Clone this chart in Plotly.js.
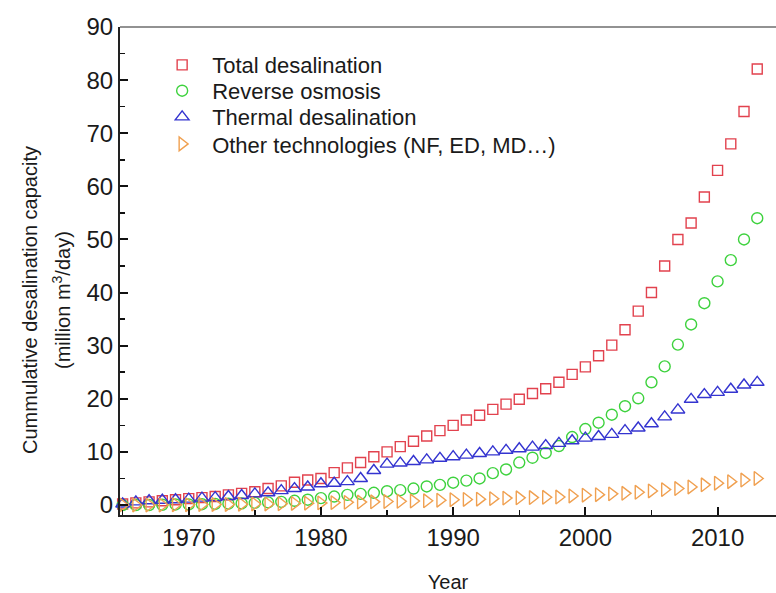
<!DOCTYPE html>
<html>
<head>
<meta charset="utf-8">
<script src="https://cdn.plot.ly/plotly-3.0.1.min.js"></script>
<style>
  html, body { margin: 0; padding: 0; background: #fff; }
  #chart { width: 776px; height: 593px; }
</style>
</head>
<body>
<div id="chart"></div>
<script>
// Cumulative installed desalination capacity, million m3/day, 1965-2013
var years = [1965, 1966, 1967, 1968, 1969, 1970, 1971, 1972, 1973, 1974,
             1975, 1976, 1977, 1978, 1979, 1980, 1981, 1982, 1983, 1984,
             1985, 1986, 1987, 1988, 1989, 1990, 1991, 1992, 1993, 1994,
             1995, 1996, 1997, 1998, 1999, 2000, 2001, 2002, 2003, 2004,
             2005, 2006, 2007, 2008, 2009, 2010, 2011, 2012, 2013];

var totalDesal = [0.2, 0.4, 0.6, 0.8, 1.0, 1.2, 1.4, 1.6, 1.9, 2.2,
                  2.5, 3.1, 3.6, 4.3, 4.7, 5.0, 6.1, 7.0, 8.0, 9.1,
                  10.0, 11.0, 12.0, 13.0, 14.0, 15.0, 16.0, 16.9, 18.0, 19.0,
                  19.9, 21.0, 21.9, 23.1, 24.6, 26.0, 28.1, 30.1, 33.0, 36.5,
                  40.0, 45.0, 50.0, 53.1, 58.0, 63.0, 68.0, 74.1, 82.1];

var reverseOsmosis = [0.0, 0.0, 0.0, 0.05, 0.1, 0.1, 0.15, 0.2, 0.25, 0.3,
                      0.4, 0.5, 0.6, 0.8, 1.0, 1.3, 1.6, 1.9, 2.1, 2.3,
                      2.6, 2.8, 3.1, 3.5, 3.8, 4.2, 4.6, 5.0, 6.0, 6.7,
                      8.0, 8.9, 9.8, 11.1, 12.8, 14.3, 15.5, 17.0, 18.6, 20.1,
                      23.1, 26.1, 30.2, 34.0, 38.0, 42.1, 46.1, 50.0, 54.0];

var thermalDesal = [0.2, 0.6, 0.8, 0.9, 1.0, 1.1, 1.3, 1.4, 1.6, 1.8,
                    2.1, 2.3, 2.7, 3.1, 3.4, 4.0, 4.1, 4.4, 5.0, 6.5,
                    7.7, 7.9, 8.2, 8.5, 8.8, 9.1, 9.4, 9.7, 10.0, 10.3,
                    10.6, 10.9, 11.2, 11.6, 12.1, 12.6, 12.9, 13.3, 14.0, 14.5,
                    15.3, 16.6, 17.9, 19.9, 20.8, 21.2, 21.8, 22.6, 23.1];

var otherTech = [0.0, 0.0, 0.0, 0.0, 0.05, 0.05, 0.1, 0.1, 0.1, 0.15,
                 0.2, 0.2, 0.25, 0.3, 0.35, 0.4, 0.45, 0.5, 0.55, 0.6,
                 0.65, 0.7, 0.75, 0.8, 0.9, 1.0, 1.05, 1.1, 1.2, 1.3,
                 1.35, 1.4, 1.45, 1.5, 1.7, 1.85, 1.95, 2.1, 2.2, 2.4,
                 2.65, 2.9, 3.1, 3.4, 3.8, 4.1, 4.4, 4.7, 5.0];

var seriesNames = ['Total desalination', 'Reverse osmosis',
                   'Thermal desalination', 'Other technologies (NF, ED, MD…)'];
var xTickVals = [1970, 1980, 1990, 2000, 2010];
var yTickVals = [0, 10, 20, 30, 40, 50, 60, 70, 80, 90];

// Hollow markers: for "-open" symbols Plotly strokes with marker.color.
// Each series gets its own legend box so the rows can be spaced freely.
function openMarkers(name, values, symbol, color, size, legendId) {
  return {
    type: 'scatter', mode: 'markers', name: name,
    x: years, y: values, legend: legendId,
    marker: { symbol: symbol, size: size, color: color,
              line: { color: color, width: 1.4 } },
    cliponaxis: false
  };
}

var traces = [
  openMarkers(seriesNames[0], totalDesal, 'square-open', '#e2424e', 10, 'legend'),
  openMarkers(seriesNames[1], reverseOsmosis, 'circle-open', '#3ed23e', 11, 'legend2'),
  openMarkers(seriesNames[2], thermalDesal, 'triangle-up-open', '#3434d0', 12, 'legend3'),
  openMarkers(seriesNames[3], otherTech, 'triangle-right-open', '#f0a050', 12, 'legend4')
];

var textFamily = 'Liberation Sans, Arial, sans-serif';
var axisFont = { family: textFamily, size: 24, color: '#1a1a1a' };

function legendBox(yPaper) {
  return {
    x: 0.049, y: yPaper, xanchor: 'left', yanchor: 'middle',
    bgcolor: 'rgba(0,0,0,0)', borderwidth: 0,
    font: { family: textFamily, size: 22, color: '#1a1a1a' },
    itemwidth: 50
  };
}

var layout = {
  width: 776, height: 593,
  margin: { l: 120, r: 0, t: 27, b: 78, autoexpand: false },
  paper_bgcolor: '#ffffff', plot_bgcolor: '#ffffff',
  showlegend: true,
  legend: legendBox(0.922),
  legend2: legendBox(0.869),
  legend3: legendBox(0.8155),
  legend4: legendBox(0.760),
  xaxis: {
    range: [1964.8, 2014.42],
    tickmode: 'array', tickvals: xTickVals, tickangle: 0,
    ticks: 'inside', ticklen: 8, tickwidth: 2, tickcolor: '#111',
    minor: { dtick: 5, ticks: 'inside', ticklen: 5, tickwidth: 1.5, tickcolor: '#111' },
    showline: true, linecolor: '#222', linewidth: 2,
    showgrid: false, zeroline: false,
    tickfont: axisFont,
    title: { text: 'Year', font: { family: textFamily, size: 20, color: '#1a1a1a' }, standoff: 36 }
  },
  yaxis: {
    range: [-1.88, 90],
    tickmode: 'array', tickvals: yTickVals,
    ticks: 'inside', ticklen: 8, tickwidth: 2, tickcolor: '#111',
    minor: { dtick: 5, ticks: 'inside', ticklen: 5, tickwidth: 1.5, tickcolor: '#111' },
    showline: true, linecolor: '#222', linewidth: 2,
    showgrid: false, zeroline: false,
    tickfont: axisFont
  },
  annotations: [
    // two-line y-axis label, set as rotated text beside the tick labels
    { xref: 'paper', yref: 'paper', x: -0.1372, y: 0.4406, textangle: -90,
      showarrow: false, xanchor: 'center', yanchor: 'middle',
      text: 'Cummulative desalination capacity',
      font: { family: textFamily, size: 20, color: '#1a1a1a' } },
    { xref: 'paper', yref: 'paper', x: -0.0884, y: 0.4406, textangle: -90,
      showarrow: false, xanchor: 'center', yanchor: 'middle',
      text: '(million m<sup>3</sup>/day)',
      font: { family: textFamily, size: 20, color: '#1a1a1a' } }
  ],
  shapes: [
    // thin frame line along the top of the plotting area
    { type: 'line', xref: 'paper', yref: 'paper', x0: 0, x1: 1, y0: 1, y1: 1,
      line: { color: '#6e6e6e', width: 1.5 } }
  ]
};

Plotly.newPlot('chart', traces, layout, { displayModeBar: false, staticPlot: true });
</script>
</body>
</html>
